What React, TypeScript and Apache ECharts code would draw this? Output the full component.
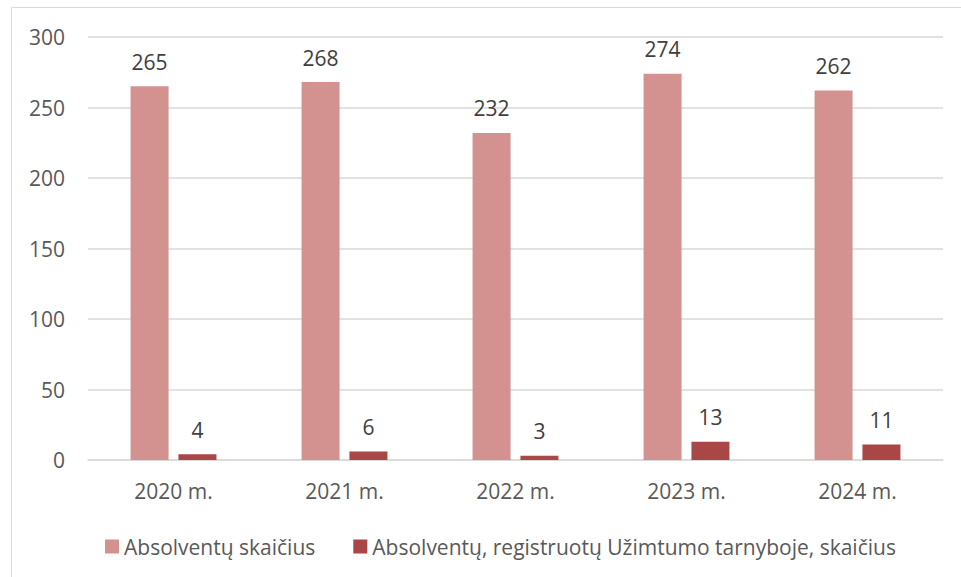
import React, { useEffect, useRef } from "react";
import * as echarts from "echarts";

const categories = ["2020 m.", "2021 m.", "2022 m.", "2023 m.", "2024 m."];
const graduates = [265, 268, 232, 274, 262];
const registered = [4, 6, 3, 13, 11];
const seriesNames = [
  "Absolventų skaičius",
  "Absolventų, registruotų Užimtumo tarnyboje, skaičius",
];

export default function App() {
  const ref = useRef<HTMLDivElement>(null);
  useEffect(() => {
    const chart = echarts.init(ref.current!, null, { renderer: "svg" });
    const font = "Open Sans";
    const fs = 21;
    chart.setOption({
      animation: false,
      textStyle: { fontFamily: font },
      graphic: [
        {
          type: "rect",
          shape: { x: 11.5, y: 7.5, width: 980, height: 600 },
          style: { fill: "none", stroke: "#d9d9d9", lineWidth: 1 },
          silent: true,
        },
      ],
      grid: { left: 88, right: 18, top: 37, bottom: 117 },
      legend: {
        top: 531,
        left: 100,
        itemWidth: 14,
        itemHeight: 14,
        itemGap: 38,
        icon: "rect",
        textStyle: { color: "#595959", fontSize: fs, fontFamily: font },
        data: seriesNames,
      },
      xAxis: {
        type: "category",
        data: categories,
        axisLine: { lineStyle: { color: "#d9d9d9", width: 1.5 } },
        axisTick: { show: false },
        axisLabel: { color: "#595959", fontSize: fs, margin: 20 },
      },
      yAxis: {
        type: "value",
        min: 0,
        max: 300,
        interval: 50,
        axisLine: { show: false },
        axisTick: { show: false },
        splitLine: { lineStyle: { color: "#d9d9d9", width: 1.5 } },
        axisLabel: { color: "#595959", fontSize: fs, margin: 23 },
      },
      series: [
        {
          name: seriesNames[0],
          type: "bar",
          data: graduates,
          barWidth: 38,
          barGap: "26%",
          itemStyle: { color: "#d39190" },
          label: { show: true, position: "top", distance: 14, color: "#404040", fontSize: fs },
        },
        {
          name: seriesNames[1],
          type: "bar",
          data: registered,
          barWidth: 38,
          itemStyle: { color: "#a94646" },
          label: { show: true, position: "top", distance: 14, color: "#404040", fontSize: fs },
        },
      ],
    });
    return () => chart.dispose();
  }, []);
  return (
    <div
      ref={ref}
      style={{ position: "absolute", left: 0, top: 0, width: 961, height: 577 }}
    />
  );
}
